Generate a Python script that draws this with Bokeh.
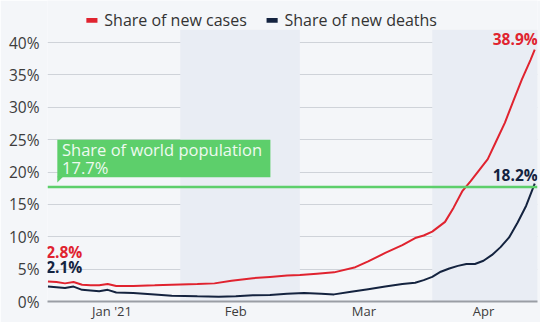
import pandas as pd
from bokeh.plotting import figure
from bokeh.models import (Range1d, FixedTicker, PrintfTickFormatter, BoxAnnotation,
                          Label, PolyAnnotation, Span)
from bokeh.embed import file_html
from bokeh.resources import INLINE

# ---------------- data ----------------
START = pd.Timestamp("2021-01-01")

cases_days = [0, 2, 4, 6, 8, 10, 12, 14, 16, 20, 25, 29, 35, 39, 43, 48, 52, 56, 59,
              63, 67, 72, 75, 79, 83, 86, 88, 90, 93, 95, 97, 99, 101, 103, 105, 107,
              109, 111, 113, 114]
cases_share = [3.1, 3.0, 2.8, 3.0, 2.6, 2.5, 2.5, 2.7, 2.4, 2.4, 2.5, 2.6, 2.7, 2.8,
               3.2, 3.6, 3.8, 4.0, 4.1, 4.3, 4.5, 5.3, 6.2, 7.5, 8.7, 9.8, 10.2, 10.8,
               12.3, 14.5, 17.0, 18.6, 20.3, 22.0, 24.8, 27.6, 31.0, 34.3, 37.3, 38.9]

deaths_days = [0, 2, 4, 6, 8, 10, 12, 14, 16, 20, 25, 29, 35, 40, 44, 48, 52, 56, 60,
               64, 67, 71, 75, 79, 83, 86, 88, 90, 92, 94, 96, 98, 100, 102, 104, 106,
               108, 110, 112, 114]
deaths_share = [2.3, 2.2, 2.1, 2.3, 1.8, 1.7, 1.6, 1.8, 1.4, 1.3, 1.1, 0.9, 0.8, 0.75,
                0.8, 0.95, 1.0, 1.2, 1.3, 1.2, 1.1, 1.5, 1.9, 2.3, 2.7, 2.9, 3.3, 3.8,
                4.6, 5.1, 5.5, 5.8, 5.8, 6.3, 7.2, 8.4, 9.9, 12.2, 14.8, 18.2]

world_pop_share = 17.7
start_labels = ["2.8%", "2.1%"]

y_ticks = [0, 5, 10, 15, 20, 25, 30, 35, 40]
month_tick_dates = ["2021-01-16", "2021-02-14", "2021-03-16", "2021-04-13"]
month_tick_labels = ["Jan '21", "Feb", "Mar", "Apr"]
shaded_months = [("2021-02-01", "2021-03-01"), ("2021-04-01", "2021-04-26")]

# ---------------- helpers ----------------
def d(days):
    return START + pd.Timedelta(days=days)

def ms(ts):
    return pd.Timestamp(ts).value / 1e6

cases_x = [d(v) for v in cases_days]
deaths_x = [d(v) for v in deaths_days]

RED = "#e0232f"
NAVY = "#14233f"
GREEN = "#5dcf6b"
BG = "#f4f6f9"
BAND = "#e9edf4"
FONT = "Open Sans"
TXT = "#3c3c3c"

p = figure(width=540, height=322, output_backend="svg", toolbar_location=None,
           x_axis_type="datetime",
           x_range=Range1d(ms(d(-0.1)), ms(d(114.65))),
           y_range=Range1d(0, 46.5),
           min_border_left=47, min_border_right=3, min_border_top=0,
           min_border_bottom=16)
p.background_fill_color = BG
p.border_fill_color = BG
p.outline_line_color = None

# month bands
for a, b in shaded_months:
    p.add_layout(BoxAnnotation(left=ms(a), right=ms(b), bottom=0, top=42.0,
                               fill_color=BAND, fill_alpha=1, line_color=None,
                               level="underlay"))

# axes
for ax in (p.xaxis[0], p.yaxis[0]):
    ax.major_tick_out = 0
    ax.major_tick_in = 0
    ax.minor_tick_out = 0
    ax.minor_tick_in = 0
    ax.major_tick_line_color = None
    ax.minor_tick_line_color = None
    ax.major_label_text_font = FONT
    ax.major_label_text_color = TXT

p.yaxis.ticker = FixedTicker(ticks=y_ticks)
p.yaxis.formatter = PrintfTickFormatter(format="%d%%")
p.yaxis.axis_line_color = None
p.yaxis.major_label_text_font_size = "15.5px"
p.yaxis.major_label_standoff = 8

tick_ms = [ms(t) for t in month_tick_dates]
p.xaxis.ticker = FixedTicker(ticks=tick_ms)
p.xaxis.major_label_overrides = {t: lab for t, lab in zip(tick_ms, month_tick_labels)}
p.xaxis.axis_line_color = "#9a9ea5"
p.xaxis.axis_line_width = 2
p.xaxis.major_label_text_font_size = "13px"
p.xaxis.major_label_standoff = 0

p.xgrid.grid_line_color = None
p.ygrid.grid_line_color = "#cfd3d9"
p.ygrid.grid_line_width = 1

# world population line and label
p.add_layout(Span(location=world_pop_share, dimension="width", line_color=GREEN,
                  line_width=2.5))
box_left, box_right = ms(d(2.2)), ms(d(52.1))
p.add_layout(BoxAnnotation(left=box_left, right=box_right, top=25.0, bottom=19.2,
                           fill_color=GREEN, fill_alpha=1, line_color=None))
p.add_layout(PolyAnnotation(xs=[box_left, box_left, ms(d(3.6))],
                            ys=[19.3, 18.4, 19.3],
                            fill_color=GREEN, fill_alpha=1, line_color=None))
p.add_layout(Label(x=ms(d(3.3)), y=23.5, text="Share of world population",
                   text_font=FONT, text_font_size="16.5px", text_color="#eefaf0",
                   text_baseline="middle"))
p.add_layout(Label(x=ms(d(3.3)), y=20.75, text=f"{world_pop_share}%",
                   text_font=FONT, text_font_size="16.5px", text_color="#eefaf0",
                   text_baseline="middle"))

# series
p.line(deaths_x, deaths_share, line_color=NAVY, line_width=2)
p.line(cases_x, cases_share, line_color=RED, line_width=2)

# end / start labels
p.add_layout(Label(x=ms(d(114.7)), y=40.6, text=f"{cases_share[-1]}%", text_font=FONT,
                   text_font_size="15.5px", text_color=RED, text_align="right",
                   text_baseline="middle", text_font_style="bold"))
p.add_layout(Label(x=ms(d(114.7)), y=19.5, text=f"{deaths_share[-1]}%", text_font=FONT,
                   text_font_size="15.5px", text_color=NAVY, text_align="right",
                   text_baseline="middle", text_font_style="bold"))
p.add_layout(Label(x=ms(d(-0.4)), y=7.6, text=start_labels[0], text_font=FONT,
                   text_font_size="15.5px", text_color=RED, text_align="left",
                   text_baseline="middle", text_font_style="bold"))
p.add_layout(Label(x=ms(d(-0.4)), y=5.3, text=start_labels[1], text_font=FONT,
                   text_font_size="15.5px", text_color=NAVY, text_align="left",
                   text_baseline="middle", text_font_style="bold"))

# legend (top strip)
p.add_layout(BoxAnnotation(left=ms(d(9.0)), right=ms(d(11.6)), bottom=43.05, top=43.8,
                           fill_color=RED, fill_alpha=1, line_color=None))
p.add_layout(Label(x=ms(d(13.2)), y=43.45, text="Share of new cases", text_font=FONT,
                   text_font_size="16px", text_color="#333333", text_baseline="middle"))
p.add_layout(BoxAnnotation(left=ms(d(51.2)), right=ms(d(53.8)), bottom=43.05, top=43.8,
                           fill_color=NAVY, fill_alpha=1, line_color=None))
p.add_layout(Label(x=ms(d(55.4)), y=43.45, text="Share of new deaths", text_font=FONT,
                   text_font_size="16px", text_color="#333333", text_baseline="middle"))

open("out.html", "w").write(file_html(p, INLINE))
